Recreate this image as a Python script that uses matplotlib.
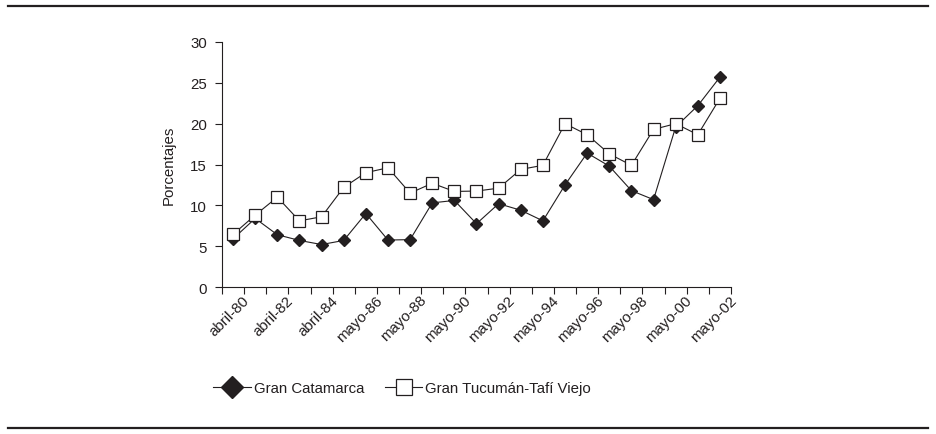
import matplotlib
matplotlib.use('Agg')
import matplotlib.pyplot as plt
import matplotlib.transforms as mtransforms
from matplotlib.lines import Line2D
import numpy as np

plt.rcParams['font.family'] = ['Liberation Sans', 'DejaVu Sans']

# one value per year, 1980 .. 2002
periods = ['abril-80', 'abril-81', 'abril-82', 'abril-83', 'abril-84', 'mayo-85',
           'mayo-86', 'mayo-87', 'mayo-88', 'mayo-89', 'mayo-90', 'mayo-91',
           'mayo-92', 'mayo-93', 'mayo-94', 'mayo-95', 'mayo-96', 'mayo-97',
           'mayo-98', 'mayo-99', 'mayo-00', 'mayo-01', 'mayo-02']
catamarca = [5.9, 8.4, 6.4, 5.7, 5.2, 5.7, 9.0, 5.75, 5.8, 10.3, 10.6, 7.75,
             10.2, 9.4, 8.1, 12.5, 16.4, 14.8, 11.8, 10.7, 19.6, 22.2, 25.7]
tucuman = [6.45, 8.8, 11.0, 8.1, 8.6, 12.2, 14.0, 14.6, 11.5, 12.7, 11.7, 11.75,
           12.1, 14.4, 14.9, 20.0, 18.65, 16.3, 14.9, 19.3, 20.0, 18.65, 23.1]
yticks = [0, 5, 10, 15, 20, 25, 30]

ink = '#231f20'
fs = 10.8
fig = plt.figure(figsize=(9.36, 4.35), dpi=100)
ax = fig.add_axes([222/936, 1-288/435, 509/936, 245/435])

x = np.arange(len(periods))
ax.plot(x, catamarca, color=ink, lw=0.8, marker='D', markersize=6.6,
        markerfacecolor=ink, markeredgecolor=ink, zorder=3)
ax.plot(x, tucuman, color=ink, lw=0.8, marker='s', markersize=8.6,
        markerfacecolor='white', markeredgecolor=ink, markeredgewidth=0.9, zorder=4)

ax.set_xlim(-0.5, len(periods) - 0.5)
ax.set_ylim(0, 30)
ax.set_yticks(yticks)
ax.tick_params(axis='y', direction='out', length=5, width=0.8, color=ink,
               labelsize=fs, pad=6, labelcolor=ink)

# ticks between categories, labels on every other category
ax.set_xticks(np.arange(-0.5, len(periods)), minor=False)
ax.set_xticklabels([])
ax.set_xticks(x[::2], minor=True)
ax.set_xticklabels(periods[::2], minor=True, rotation=45, ha='right',
                   rotation_mode='anchor', fontsize=fs, color=ink)
ax.tick_params(axis='x', which='major', direction='out', length=5, width=0.8, color=ink)
ax.tick_params(axis='x', which='minor', length=0, pad=4)
offset = mtransforms.ScaledTranslation(9/100, 0, fig.dpi_scale_trans)
for lab in ax.get_xticklabels(minor=True):
    lab.set_transform(lab.get_transform() + offset)

for s in ['top', 'right']:
    ax.spines[s].set_visible(False)
for s in ['left', 'bottom']:
    ax.spines[s].set_color(ink)
    ax.spines[s].set_linewidth(0.8)

ax.set_ylabel('Porcentajes', fontsize=fs, color=ink, labelpad=10)

handles = [Line2D([], [], color=ink, lw=0.8, marker='D', markersize=11,
                  markerfacecolor=ink, markeredgecolor=ink),
           Line2D([], [], color=ink, lw=0.8, marker='s', markersize=11.5,
                  markerfacecolor='white', markeredgecolor=ink, markeredgewidth=0.9)]
fig.legend(handles, ['Gran Catamarca', 'Gran Tucumán-Tafí Viejo'],
           loc='center left', bbox_to_anchor=(213/936, 1-389/435), ncol=2,
           frameon=False, fontsize=fs, handlelength=2.5, handletextpad=0.2,
           columnspacing=1.4, borderpad=0, borderaxespad=0, labelcolor=ink)

# rules above and below the figure
for yy in [7, 429]:
    fig.add_artist(Line2D([8/936, 928/936], [1-yy/435, 1-yy/435],
                          color=ink, lw=1.6, transform=fig.transFigure))

fig.savefig('out.png', dpi=100)
